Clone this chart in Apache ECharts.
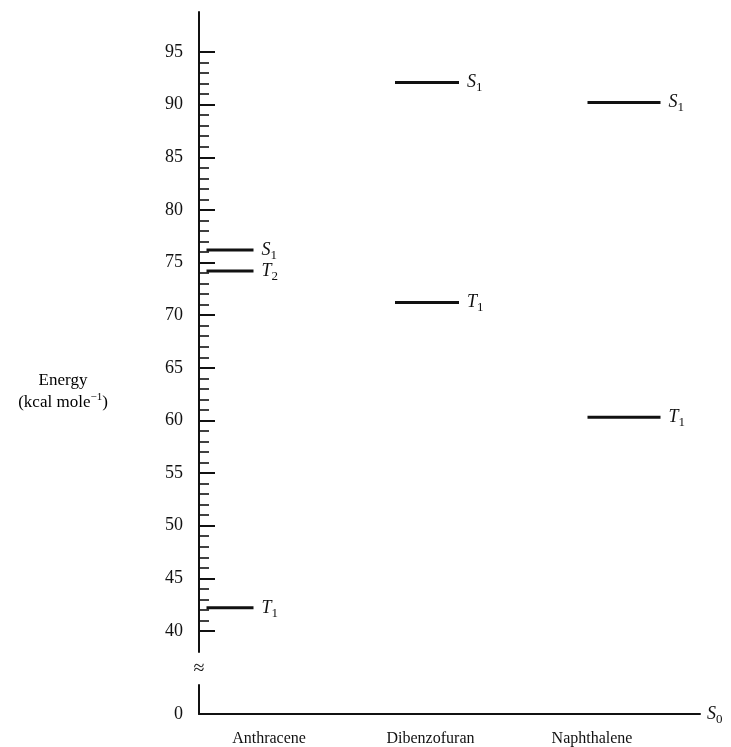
<!DOCTYPE html>
<html><head><meta charset="utf-8">
<script src="https://cdn.jsdelivr.net/npm/echarts@6/dist/echarts.min.js"></script>
<style>html,body{margin:0;padding:0;background:#fff}#c{width:731px;height:747px}</style>
</head><body><div id="c"></div>
<script>
// ---- data ----
const categories = ['Anthracene', 'Dibenzofuran', 'Naphthalene'];
const s1Values = [76.2, 92.1, 90.2];
const t1Values = [42.2, 71.2, 60.3];
const t2Values = [74.2, null, null];
const majorTickValues = [40, 45, 50, 55, 60, 65, 70, 75, 80, 85, 90, 95];
const minorTickValues = [41, 42, 43, 44, 46, 47, 48, 49, 51, 52, 53, 54, 56, 57, 58, 59,
  61, 62, 63, 64, 66, 67, 68, 69, 71, 72, 73, 74, 76, 77, 78, 79, 81, 82, 83, 84,
  86, 87, 88, 89, 91, 92, 93, 94];
const baseTickValues = [0];

// ---- style ----
const serif = '"Liberation Serif", "DejaVu Serif", serif';
const ink = '#111';
const segWidths = [47, 64, 73];
const upperMin = 38, upperMax = 98.8;

function stateRich(size) {
  return {
    i: { fontFamily: serif, fontStyle: 'italic', fontSize: size, color: ink, lineHeight: 24, verticalAlign: 'middle' },
    sub: { fontFamily: serif, fontSize: size - 5, color: ink, lineHeight: 12, verticalAlign: 'bottom' }
  };
}

function levelSeries(name, values, letter, idx) {
  return {
    type: 'scatter', name: name, xAxisIndex: 1, yAxisIndex: 2,
    data: values.map(v => (v == null ? '-' : v)),
    symbol: 'rect',
    symbolSize: (val, params) => [segWidths[params.dataIndex], 3],
    itemStyle: { color: ink, opacity: 1 },
    silent: true,
    label: {
      show: true, position: 'right', distance: 8,
      formatter: '{i|' + letter + '}{sub|' + idx + '}',
      rich: stateRich(18)
    }
  };
}

const chart = echarts.init(document.getElementById('c'), null, { renderer: 'canvas' });
chart.setOption({
  animation: false,
  backgroundColor: '#fff',
  grid: [
    { left: 199, right: 31, top: 12, bottom: 95 },
    { left: 131.5, right: 8.5, top: 12, bottom: 95 },
    { left: 199, right: 31, top: 685, bottom: 33 },
    { left: 188.25, right: 58.25, top: 685, bottom: 33 }
  ],
  xAxis: [
    { gridIndex: 0, type: 'category', data: categories, show: false },
    { gridIndex: 1, type: 'category', data: categories, show: false },
    { gridIndex: 2, type: 'category', data: categories,
      axisLine: { show: true, lineStyle: { color: ink, width: 2 } },
      axisTick: { show: false }, axisLabel: { show: false },
      name: '{i|S}{sub|0}', nameLocation: 'end', nameGap: 7,
      nameTextStyle: { rich: stateRich(18) } },
    { gridIndex: 3, type: 'category', data: categories,
      axisLine: { show: false }, axisTick: { show: false },
      axisLabel: { show: true, margin: 18, fontFamily: serif, fontSize: 16, color: ink } }
  ],
  yAxis: [
    { gridIndex: 0, type: 'value', position: 'left', min: upperMin, max: upperMax,
      axisLine: { show: true, lineStyle: { color: ink, width: 2 } },
      axisTick: { show: true, inside: true, length: 16, customValues: majorTickValues, lineStyle: { color: ink, width: 2 } },
      axisLabel: { show: true, margin: 16, customValues: majorTickValues, fontFamily: serif, fontSize: 18, color: ink },
      splitLine: { show: false } },
    { gridIndex: 0, type: 'value', position: 'left', offset: 0, min: upperMin, max: upperMax,
      axisLine: { show: false },
      axisTick: { show: true, inside: true, length: 10, customValues: minorTickValues, lineStyle: { color: ink, width: 1.6 } },
      axisLabel: { show: false }, splitLine: { show: false } },
    { gridIndex: 1, type: 'value', min: upperMin, max: upperMax, show: false, splitLine: { show: false } },
    { gridIndex: 2, type: 'value', position: 'left', min: 0, max: 1,
      axisLine: { show: true, lineStyle: { color: ink, width: 2 } },
      axisTick: { show: false },
      axisLabel: { show: true, margin: 16, customValues: baseTickValues, fontFamily: serif, fontSize: 18, color: ink },
      splitLine: { show: false },
      name: '≈', nameLocation: 'end', nameGap: 6,
      nameTextStyle: { fontFamily: serif, fontSize: 20, color: ink, align: 'center' } },
    { gridIndex: 3, type: 'value', min: 0, max: 1, show: false, splitLine: { show: false } }
  ],
  graphic: [{
    type: 'text', x: 63, y: 370,
    style: {
      text: '{a|Energy}\n{a|(kcal mole}{sup|−1}{a|)}',
      align: 'center',
      rich: {
        a: { fontFamily: serif, fontSize: 17, color: ink, lineHeight: 22 },
        sup: { fontFamily: serif, fontSize: 11, color: ink, lineHeight: 13, verticalAlign: 'top' }
      }
    }
  }],
  series: [
    levelSeries('S1', s1Values, 'S', 1),
    levelSeries('T1', t1Values, 'T', 1),
    levelSeries('T2', t2Values, 'T', 2)
  ]
});
</script></body></html>
